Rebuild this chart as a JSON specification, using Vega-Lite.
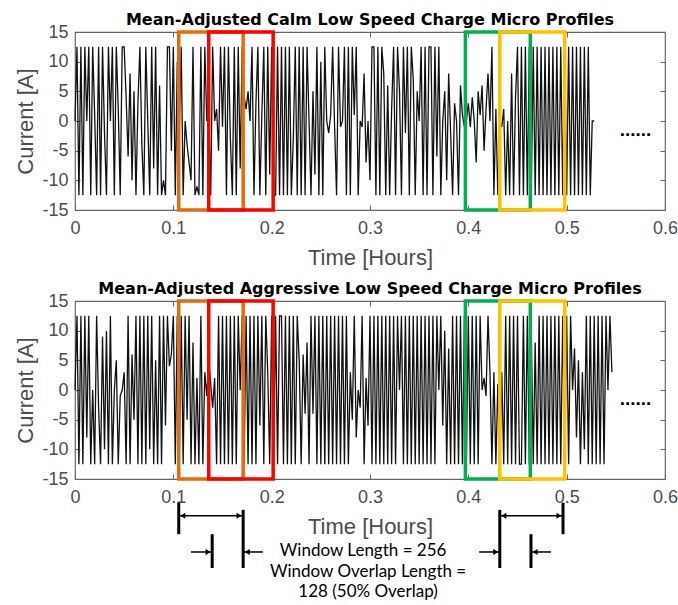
{
  "$schema": "https://vega.github.io/schema/vega-lite/v6.json",
  "padding": {"left": 14, "top": 11, "right": 4, "bottom": 2},
  "spacing": 11,
  "background": "white",
  "config": {
    "view": {"stroke": "#666666", "strokeWidth": 1.2},
    "axis": {
      "grid": false,
      "domain": false,
      "tickSize": -5,
      "tickColor": "#666666",
      "tickWidth": 1,
      "labelFlush": false,
      "labelFont": "Liberation Sans",
      "labelFontSize": 18,
      "labelColor": "#4d4d4d",
      "labelPadding": 14,
      "labelExpr": "replace(datum.label, '\u2212', '-')",
      "titleFont": "Liberation Sans",
      "titleFontSize": 22,
      "titleFontWeight": "normal",
      "titleColor": "#4d4d4d",
      "titlePadding": 10
    },
    "title": {"font": "DejaVu Sans", "fontSize": 16, "fontWeight": "bold", "color": "#000000", "offset": -5, "anchor": "middle"}
  },
  "datasets": {
    "calm": [
      {"t":0,"i":0},{"t":0.002,"i":12.5},{"t":0.004,"i":-12.5},{"t":0.006,"i":12.5},{"t":0.008,"i":-12.5},{"t":0.010,"i":12.5},{"t":0.012,"i":0},{"t":0.014,"i":12.5},{"t":0.016,"i":-12.5},{"t":0.018,"i":12.5},
      {"t":0.020,"i":1},{"t":0.022,"i":-12.5},{"t":0.024,"i":12.5},{"t":0.026,"i":-12.5},{"t":0.028,"i":12.5},{"t":0.030,"i":-2},{"t":0.032,"i":-12.5},{"t":0.034,"i":12.5},{"t":0.036,"i":0},{"t":0.038,"i":12.5},
      {"t":0.040,"i":-12.5},{"t":0.042,"i":12.5},{"t":0.044,"i":2},{"t":0.046,"i":-12.5},{"t":0.048,"i":12.5},{"t":0.050,"i":12.5},{"t":0.052,"i":4},{"t":0.054,"i":-6},{"t":0.056,"i":8},{"t":0.058,"i":-10},
      {"t":0.060,"i":5},{"t":0.062,"i":-12.5},{"t":0.064,"i":3},{"t":0.066,"i":12.5},{"t":0.068,"i":-4},{"t":0.070,"i":-12.5},{"t":0.072,"i":12.5},{"t":0.074,"i":0},{"t":0.076,"i":-12.5},{"t":0.078,"i":12.5},
      {"t":0.080,"i":-8},{"t":0.082,"i":12.5},{"t":0.084,"i":-12.5},{"t":0.086,"i":6},{"t":0.088,"i":-12.5},{"t":0.090,"i":-10},{"t":0.092,"i":-12.5},{"t":0.094,"i":12.5},{"t":0.096,"i":12.5},{"t":0.098,"i":-5},
      {"t":0.100,"i":12.5},{"t":0.102,"i":-12.5},{"t":0.104,"i":10},{"t":0.106,"i":-2},{"t":0.108,"i":12.5},{"t":0.110,"i":-12.5},{"t":0.112,"i":0},{"t":0.114,"i":-4},{"t":0.116,"i":-7},{"t":0.118,"i":-10},
      {"t":0.120,"i":12.5},{"t":0.122,"i":-12.5},{"t":0.124,"i":-11},{"t":0.126,"i":-12.5},{"t":0.128,"i":12.5},{"t":0.130,"i":-12.5},{"t":0.132,"i":12.5},{"t":0.134,"i":0},{"t":0.136,"i":1},{"t":0.138,"i":-12.5},
      {"t":0.140,"i":12.5},{"t":0.142,"i":0},{"t":0.144,"i":2},{"t":0.146,"i":-5},{"t":0.148,"i":12.5},{"t":0.150,"i":-1},{"t":0.152,"i":12.5},{"t":0.154,"i":-12.5},{"t":0.156,"i":12.5},{"t":0.158,"i":-3},
      {"t":0.160,"i":-12.5},{"t":0.162,"i":12.5},{"t":0.164,"i":-12.5},{"t":0.166,"i":12.5},{"t":0.168,"i":-8},{"t":0.170,"i":12.5},{"t":0.172,"i":4},{"t":0.174,"i":2},{"t":0.176,"i":5},{"t":0.178,"i":0},
      {"t":0.180,"i":12.5},{"t":0.182,"i":-12.5},{"t":0.184,"i":3},{"t":0.186,"i":12.5},{"t":0.188,"i":-12.5},{"t":0.190,"i":1},{"t":0.192,"i":12.5},{"t":0.194,"i":-12.5},{"t":0.196,"i":12.5},{"t":0.198,"i":-9},
      {"t":0.200,"i":12.5},{"t":0.202,"i":-12.5},{"t":0.204,"i":-12.5},{"t":0.206,"i":12.5},{"t":0.208,"i":-12.5},{"t":0.210,"i":12.5},{"t":0.212,"i":-12.5},{"t":0.214,"i":12.5},{"t":0.216,"i":-12.5},{"t":0.218,"i":12.5},
      {"t":0.220,"i":-12.5},{"t":0.222,"i":-3},{"t":0.224,"i":12.5},{"t":0.226,"i":-12.5},{"t":0.228,"i":12.5},{"t":0.230,"i":-12.5},{"t":0.232,"i":12.5},{"t":0.234,"i":-12.5},{"t":0.236,"i":12.5},{"t":0.238,"i":0},
      {"t":0.240,"i":-12.5},{"t":0.242,"i":5},{"t":0.244,"i":-9},{"t":0.246,"i":12.5},{"t":0.248,"i":-12.5},{"t":0.250,"i":10},{"t":0.252,"i":-12.5},{"t":0.254,"i":12.5},{"t":0.256,"i":0},{"t":0.258,"i":-2},
      {"t":0.260,"i":1},{"t":0.262,"i":12.5},{"t":0.264,"i":-1},{"t":0.266,"i":-12.5},{"t":0.268,"i":12.5},{"t":0.270,"i":-1},{"t":0.272,"i":0},{"t":0.274,"i":12.5},{"t":0.276,"i":-12.5},{"t":0.278,"i":12.5},
      {"t":0.280,"i":-12.5},{"t":0.282,"i":12.5},{"t":0.284,"i":1},{"t":0.286,"i":12.5},{"t":0.288,"i":-12.5},{"t":0.290,"i":0},{"t":0.292,"i":-1},{"t":0.294,"i":8},{"t":0.296,"i":-7},{"t":0.298,"i":0},
      {"t":0.300,"i":-10},{"t":0.302,"i":12.5},{"t":0.304,"i":12.5},{"t":0.306,"i":-12.5},{"t":0.308,"i":12.5},{"t":0.310,"i":-12.5},{"t":0.312,"i":12.5},{"t":0.314,"i":8},{"t":0.316,"i":-12.5},{"t":0.318,"i":6},
      {"t":0.320,"i":-12.5},{"t":0.322,"i":2},{"t":0.324,"i":12.5},{"t":0.326,"i":-12.5},{"t":0.328,"i":12.5},{"t":0.330,"i":5},{"t":0.332,"i":-12.5},{"t":0.334,"i":12.5},{"t":0.336,"i":-2},{"t":0.338,"i":12.5},
      {"t":0.340,"i":-12.5},{"t":0.342,"i":12.5},{"t":0.344,"i":7},{"t":0.346,"i":-12.5},{"t":0.348,"i":5},{"t":0.350,"i":0},{"t":0.352,"i":12.5},{"t":0.354,"i":-12.5},{"t":0.356,"i":12.5},{"t":0.358,"i":-12.5},
      {"t":0.360,"i":12.5},{"t":0.362,"i":12.5},{"t":0.364,"i":-12.5},{"t":0.366,"i":12.5},{"t":0.368,"i":-6},{"t":0.370,"i":12.5},{"t":0.372,"i":-12.5},{"t":0.374,"i":0},{"t":0.376,"i":5},{"t":0.378,"i":-10},
      {"t":0.380,"i":8},{"t":0.382,"i":-2},{"t":0.384,"i":-12.5},{"t":0.386,"i":3},{"t":0.388,"i":0},{"t":0.390,"i":-12.5},{"t":0.392,"i":6},{"t":0.394,"i":1},{"t":0.396,"i":-1},{"t":0.398,"i":0},
      {"t":0.400,"i":3},{"t":0.402,"i":-1},{"t":0.404,"i":4},{"t":0.406,"i":0},{"t":0.408,"i":-7},{"t":0.410,"i":5},{"t":0.412,"i":1},{"t":0.414,"i":6},{"t":0.416,"i":-5},{"t":0.418,"i":2},
      {"t":0.420,"i":8},{"t":0.422,"i":0},{"t":0.424,"i":12.5},{"t":0.426,"i":-12.5},{"t":0.428,"i":2},{"t":0.430,"i":-12.5},{"t":0.432,"i":0},{"t":0.434,"i":-1},{"t":0.436,"i":2},{"t":0.438,"i":-12.5},
      {"t":0.440,"i":0},{"t":0.442,"i":-12.5},{"t":0.444,"i":8},{"t":0.446,"i":-12.5},{"t":0.448,"i":4},{"t":0.450,"i":12.5},{"t":0.452,"i":-12.5},{"t":0.454,"i":12.5},{"t":0.456,"i":-12.5},{"t":0.458,"i":12.5},
      {"t":0.460,"i":-12.5},{"t":0.462,"i":12.5},{"t":0.464,"i":-12.5},{"t":0.466,"i":12.5},{"t":0.468,"i":-12.5},{"t":0.470,"i":12.5},{"t":0.472,"i":-12.5},{"t":0.474,"i":12.5},{"t":0.476,"i":-12.5},{"t":0.478,"i":12.5},
      {"t":0.480,"i":-12.5},{"t":0.482,"i":12.5},{"t":0.484,"i":-12.5},{"t":0.486,"i":12.5},{"t":0.488,"i":-12.5},{"t":0.490,"i":12.5},{"t":0.492,"i":-12.5},{"t":0.494,"i":12.5},{"t":0.496,"i":-12.5},{"t":0.498,"i":12.5},
      {"t":0.500,"i":-12.5},{"t":0.502,"i":12.5},{"t":0.504,"i":-12.5},{"t":0.506,"i":12.5},{"t":0.508,"i":-12.5},{"t":0.510,"i":12.5},{"t":0.512,"i":-12.5},{"t":0.514,"i":12.5},{"t":0.516,"i":-12.5},{"t":0.518,"i":12.5},
      {"t":0.520,"i":-12.5},{"t":0.522,"i":12.5},{"t":0.524,"i":-12.5},{"t":0.526,"i":0},{"t":0.528,"i":0}
    ],
    "aggressive": [
      {"t":0,"i":0},{"t":0.002,"i":12.5},{"t":0.004,"i":-12.5},{"t":0.006,"i":12.5},{"t":0.008,"i":-12.5},{"t":0.010,"i":12.5},{"t":0.012,"i":-8},{"t":0.014,"i":12.5},{"t":0.016,"i":-12.5},{"t":0.018,"i":0},
      {"t":0.020,"i":-12.5},{"t":0.022,"i":12.5},{"t":0.024,"i":-3},{"t":0.026,"i":-12.5},{"t":0.028,"i":9},{"t":0.030,"i":-10},{"t":0.032,"i":10},{"t":0.034,"i":-12.5},{"t":0.036,"i":12.5},{"t":0.038,"i":-12.5},
      {"t":0.040,"i":0},{"t":0.042,"i":5},{"t":0.044,"i":-12.5},{"t":0.046,"i":-1},{"t":0.048,"i":0},{"t":0.050,"i":3},{"t":0.052,"i":-12.5},{"t":0.054,"i":12.5},{"t":0.056,"i":-12.5},{"t":0.058,"i":6},
      {"t":0.060,"i":-5},{"t":0.062,"i":12.5},{"t":0.064,"i":-12.5},{"t":0.066,"i":12.5},{"t":0.068,"i":-12.5},{"t":0.070,"i":12.5},{"t":0.072,"i":-12.5},{"t":0.074,"i":12.5},{"t":0.076,"i":-10},{"t":0.078,"i":12.5},
      {"t":0.080,"i":-12.5},{"t":0.082,"i":5},{"t":0.084,"i":-12.5},{"t":0.086,"i":12.5},{"t":0.088,"i":-12.5},{"t":0.090,"i":12.5},{"t":0.092,"i":-6},{"t":0.094,"i":12.5},{"t":0.096,"i":4},{"t":0.098,"i":6},
      {"t":0.100,"i":12.5},{"t":0.102,"i":-12.5},{"t":0.104,"i":12.5},{"t":0.106,"i":-12.5},{"t":0.108,"i":12.5},{"t":0.110,"i":-12.5},{"t":0.112,"i":12.5},{"t":0.114,"i":-5},{"t":0.116,"i":12.5},{"t":0.118,"i":-12.5},
      {"t":0.120,"i":8},{"t":0.122,"i":-12.5},{"t":0.124,"i":2},{"t":0.126,"i":-12.5},{"t":0.128,"i":12.5},{"t":0.130,"i":-12.5},{"t":0.132,"i":3},{"t":0.134,"i":-1},{"t":0.136,"i":5},{"t":0.138,"i":1},
      {"t":0.140,"i":-3},{"t":0.142,"i":2},{"t":0.144,"i":-12.5},{"t":0.146,"i":12.5},{"t":0.148,"i":-12.5},{"t":0.150,"i":12.5},{"t":0.152,"i":-12.5},{"t":0.154,"i":12.5},{"t":0.156,"i":-12.5},{"t":0.158,"i":12.5},
      {"t":0.160,"i":-12.5},{"t":0.162,"i":12.5},{"t":0.164,"i":-12.5},{"t":0.166,"i":12.5},{"t":0.168,"i":0},{"t":0.170,"i":12.5},{"t":0.172,"i":-12.5},{"t":0.174,"i":12.5},{"t":0.176,"i":-12.5},{"t":0.178,"i":12.5},
      {"t":0.180,"i":-12.5},{"t":0.182,"i":12.5},{"t":0.184,"i":-12.5},{"t":0.186,"i":12.5},{"t":0.188,"i":-6},{"t":0.190,"i":12.5},{"t":0.192,"i":-12.5},{"t":0.194,"i":12.5},{"t":0.196,"i":3},{"t":0.198,"i":-12.5},
      {"t":0.200,"i":12.5},{"t":0.202,"i":-12.5},{"t":0.204,"i":12.5},{"t":0.206,"i":-12.5},{"t":0.208,"i":12.5},{"t":0.210,"i":12.5},{"t":0.212,"i":-12.5},{"t":0.214,"i":12.5},{"t":0.216,"i":-12.5},{"t":0.218,"i":12.5},
      {"t":0.220,"i":-12.5},{"t":0.222,"i":12.5},{"t":0.224,"i":-12.5},{"t":0.226,"i":12.5},{"t":0.228,"i":5},{"t":0.230,"i":-12.5},{"t":0.232,"i":6},{"t":0.234,"i":-4},{"t":0.236,"i":8},{"t":0.238,"i":-12.5},
      {"t":0.240,"i":12.5},{"t":0.242,"i":-4},{"t":0.244,"i":12.5},{"t":0.246,"i":-12.5},{"t":0.248,"i":12.5},{"t":0.250,"i":-12.5},{"t":0.252,"i":12.5},{"t":0.254,"i":-12.5},{"t":0.256,"i":12.5},{"t":0.258,"i":-12.5},
      {"t":0.260,"i":12.5},{"t":0.262,"i":-12.5},{"t":0.264,"i":12.5},{"t":0.266,"i":-12.5},{"t":0.268,"i":12.5},{"t":0.270,"i":-12.5},{"t":0.272,"i":12.5},{"t":0.274,"i":-12.5},{"t":0.276,"i":12.5},{"t":0.278,"i":-12.5},
      {"t":0.280,"i":3},{"t":0.282,"i":-5},{"t":0.284,"i":12.5},{"t":0.286,"i":-8},{"t":0.288,"i":0},{"t":0.290,"i":-3},{"t":0.292,"i":12.5},{"t":0.294,"i":-12.5},{"t":0.296,"i":2},{"t":0.298,"i":-6},
      {"t":0.300,"i":12.5},{"t":0.302,"i":-12.5},{"t":0.304,"i":12.5},{"t":0.306,"i":-12.5},{"t":0.308,"i":12.5},{"t":0.310,"i":-12.5},{"t":0.312,"i":12.5},{"t":0.314,"i":-12.5},{"t":0.316,"i":12.5},{"t":0.318,"i":-12.5},
      {"t":0.320,"i":12.5},{"t":0.322,"i":-12.5},{"t":0.324,"i":12.5},{"t":0.326,"i":-12.5},{"t":0.328,"i":12.5},{"t":0.330,"i":0},{"t":0.332,"i":12.5},{"t":0.334,"i":-12.5},{"t":0.336,"i":12.5},{"t":0.338,"i":-12.5},
      {"t":0.340,"i":12.5},{"t":0.342,"i":-12.5},{"t":0.344,"i":12.5},{"t":0.346,"i":-12.5},{"t":0.348,"i":12.5},{"t":0.350,"i":-12.5},{"t":0.352,"i":12.5},{"t":0.354,"i":-12.5},{"t":0.356,"i":12.5},{"t":0.358,"i":-12.5},
      {"t":0.360,"i":12.5},{"t":0.362,"i":-12.5},{"t":0.364,"i":12.5},{"t":0.366,"i":-12.5},{"t":0.368,"i":12.5},{"t":0.370,"i":0},{"t":0.372,"i":12.5},{"t":0.374,"i":-6},{"t":0.376,"i":10},{"t":0.378,"i":-12.5},
      {"t":0.380,"i":7},{"t":0.382,"i":-12.5},{"t":0.384,"i":12.5},{"t":0.386,"i":-12.5},{"t":0.388,"i":12.5},{"t":0.390,"i":-12.5},{"t":0.392,"i":12.5},{"t":0.394,"i":-12.5},{"t":0.396,"i":12.5},{"t":0.398,"i":-12.5},
      {"t":0.400,"i":12.5},{"t":0.402,"i":-12.5},{"t":0.404,"i":12.5},{"t":0.406,"i":-12.5},{"t":0.408,"i":12.5},{"t":0.410,"i":-12.5},{"t":0.412,"i":12.5},{"t":0.414,"i":0},{"t":0.416,"i":2},{"t":0.418,"i":-1},
      {"t":0.420,"i":12.5},{"t":0.422,"i":3},{"t":0.424,"i":-12.5},{"t":0.426,"i":3},{"t":0.428,"i":-12.5},{"t":0.430,"i":1},{"t":0.432,"i":-12.5},{"t":0.434,"i":3},{"t":0.436,"i":-12.5},{"t":0.438,"i":12.5},
      {"t":0.440,"i":-12.5},{"t":0.442,"i":12.5},{"t":0.444,"i":-12.5},{"t":0.446,"i":12.5},{"t":0.448,"i":-12.5},{"t":0.450,"i":12.5},{"t":0.452,"i":-12.5},{"t":0.454,"i":-12.5},{"t":0.456,"i":12.5},{"t":0.458,"i":-12.5},
      {"t":0.460,"i":12.5},{"t":0.462,"i":-12.5},{"t":0.464,"i":10},{"t":0.466,"i":-12.5},{"t":0.468,"i":8},{"t":0.470,"i":-12.5},{"t":0.472,"i":12.5},{"t":0.474,"i":-12.5},{"t":0.476,"i":12.5},{"t":0.478,"i":-12.5},
      {"t":0.480,"i":12.5},{"t":0.482,"i":-12.5},{"t":0.484,"i":12.5},{"t":0.486,"i":-12.5},{"t":0.488,"i":12.5},{"t":0.490,"i":-12.5},{"t":0.492,"i":12.5},{"t":0.494,"i":-12.5},{"t":0.496,"i":12.5},{"t":0.498,"i":-12.5},
      {"t":0.500,"i":12.5},{"t":0.502,"i":-12.5},{"t":0.504,"i":12.5},{"t":0.506,"i":0},{"t":0.508,"i":7},{"t":0.510,"i":-8},{"t":0.512,"i":5},{"t":0.514,"i":-12.5},{"t":0.516,"i":3},{"t":0.518,"i":-10},
      {"t":0.520,"i":12.5},{"t":0.522,"i":-12.5},{"t":0.524,"i":12.5},{"t":0.526,"i":-12.5},{"t":0.528,"i":12.5},{"t":0.530,"i":-12.5},{"t":0.532,"i":12.5},{"t":0.534,"i":-12.5},{"t":0.536,"i":12.5},{"t":0.538,"i":-12.5},
      {"t":0.540,"i":12.5},{"t":0.542,"i":0},{"t":0.544,"i":12.5},{"t":0.546,"i":3}
    ],
    "windows": [
      {"w": "orange", "t0": 0.1055, "t1": 0.171},
      {"w": "red", "t0": 0.136, "t1": 0.2015},
      {"w": "green", "t0": 0.397, "t1": 0.463},
      {"w": "yellow", "t0": 0.432, "t1": 0.498}
    ],
    "more": [{"t": 0.57, "i": -2.6, "label": "......"}],
    "spans": [
      {"t": 0.1055, "y0": -19.0, "y1": -24.3},
      {"t": 0.171, "y0": -20.2, "y1": -30.0},
      {"t": 0.1395, "y0": -24.3, "y1": -30.0},
      {"t": 0.432, "y0": -20.2, "y1": -30.0},
      {"t": 0.4963, "y0": -19.0, "y1": -24.3},
      {"t": 0.4637, "y0": -24.3, "y1": -30.0}
    ],
    "leads": [
      {"t0": 0.1055, "t1": 0.171, "y": -21.2},
      {"t0": 0.118, "t1": 0.1395, "y": -27.3},
      {"t0": 0.171, "t1": 0.191, "y": -27.3},
      {"t0": 0.432, "t1": 0.4963, "y": -21.2},
      {"t0": 0.411, "t1": 0.432, "y": -27.3},
      {"t0": 0.4637, "t1": 0.484, "y": -27.3}
    ],
    "heads": [
      {"t": 0.1055, "y": -21.2, "dir": "left"},
      {"t": 0.171, "y": -21.2, "dir": "right"},
      {"t": 0.1395, "y": -27.3, "dir": "right"},
      {"t": 0.171, "y": -27.3, "dir": "left"},
      {"t": 0.432, "y": -21.2, "dir": "left"},
      {"t": 0.4963, "y": -21.2, "dir": "right"},
      {"t": 0.432, "y": -27.3, "dir": "right"},
      {"t": 0.4637, "y": -27.3, "dir": "left"}
    ],
    "notes": [
      {"t": 0.293, "y": -27.15, "label": "Window Length = 256"},
      {"t": 0.298, "y": -30.6, "label": "Window Overlap Length ="},
      {"t": 0.298, "y": -34.05, "label": "128 (50% Overlap)"}
    ]
  },
  "vconcat": [
    {
      "width": 590,
      "height": 178,
      "title": "Mean-Adjusted Calm Low Speed Charge Micro Profiles",
      "layer": [
        {
          "data": {"name": "calm"},
          "mark": {"type": "line", "stroke": "#111111", "strokeWidth": 1.3},
          "encoding": {
            "x": {"field": "t", "type": "quantitative", "scale": {"domain": [0, 0.6], "nice": false},
                  "axis": {"orient": "bottom", "title": "Time [Hours]", "values": [0, 0.1, 0.2, 0.3, 0.4, 0.5, 0.6], "format": "~g"}},
            "y": {"field": "i", "type": "quantitative", "scale": {"domain": [-15, 15], "nice": false},
                  "axis": {"orient": "left", "title": "Current [A]", "values": [-15, -10, -5, 0, 5, 10, 15], "labelPadding": 12, "titlePadding": 4}}
          }
        },
        {
          "data": {"name": "windows"},
          "mark": {"type": "rect", "filled": false, "strokeWidth": 3.5},
          "encoding": {
            "x": {"field": "t0", "type": "quantitative", "scale": {"domain": [0, 0.6], "nice": false},
                  "axis": {"orient": "top", "labels": false, "title": null, "values": [0.1, 0.2, 0.3, 0.4, 0.5]}},
            "x2": {"field": "t1"},
            "y": {"datum": -15, "type": "quantitative", "scale": {"domain": [-15, 15], "nice": false},
                  "axis": {"orient": "right", "labels": false, "title": null, "values": [-10, -5, 0, 5, 10]}},
            "y2": {"datum": 15},
            "color": {"field": "w", "type": "nominal", "legend": null,
                      "scale": {"domain": ["orange", "red", "green", "yellow"], "range": ["#E46C0A", "#FF0000", "#00B050", "#FFC000"]}}
          }
        },
        {
          "data": {"name": "more"},
          "mark": {"type": "text", "font": "Liberation Sans", "fontSize": 19, "fontWeight": "bold", "color": "#000000", "baseline": "alphabetic", "align": "center"},
          "encoding": {
            "x": {"field": "t", "type": "quantitative", "scale": {"domain": [0, 0.6], "nice": false}, "axis": null},
            "y": {"field": "i", "type": "quantitative", "scale": {"domain": [-15, 15], "nice": false}, "axis": null},
            "text": {"field": "label"}
          }
        }
      ]
    },
    {
      "width": 590,
      "height": 178,
      "title": "Mean-Adjusted Aggressive Low Speed Charge Micro Profiles",
      "layer": [
        {
          "data": {"name": "aggressive"},
          "mark": {"type": "line", "stroke": "#111111", "strokeWidth": 1.3},
          "encoding": {
            "x": {"field": "t", "type": "quantitative", "scale": {"domain": [0, 0.6], "nice": false},
                  "axis": {"orient": "bottom", "title": "Time [Hours]", "values": [0, 0.1, 0.2, 0.3, 0.4, 0.5, 0.6], "format": "~g"}},
            "y": {"field": "i", "type": "quantitative", "scale": {"domain": [-15, 15], "nice": false},
                  "axis": {"orient": "left", "title": "Current [A]", "values": [-15, -10, -5, 0, 5, 10, 15], "labelPadding": 12, "titlePadding": 4}}
          }
        },
        {
          "data": {"name": "windows"},
          "mark": {"type": "rect", "filled": false, "strokeWidth": 3.5},
          "encoding": {
            "x": {"field": "t0", "type": "quantitative", "scale": {"domain": [0, 0.6], "nice": false},
                  "axis": {"orient": "top", "labels": false, "title": null, "values": [0.1, 0.2, 0.3, 0.4, 0.5]}},
            "x2": {"field": "t1"},
            "y": {"datum": -15, "type": "quantitative", "scale": {"domain": [-15, 15], "nice": false},
                  "axis": {"orient": "right", "labels": false, "title": null, "values": [-10, -5, 0, 5, 10]}},
            "y2": {"datum": 15},
            "color": {"field": "w", "type": "nominal", "legend": null,
                      "scale": {"domain": ["orange", "red", "green", "yellow"], "range": ["#E46C0A", "#FF0000", "#00B050", "#FFC000"]}}
          }
        },
        {
          "data": {"name": "more"},
          "mark": {"type": "text", "font": "Liberation Sans", "fontSize": 19, "fontWeight": "bold", "color": "#000000", "baseline": "alphabetic", "align": "center"},
          "encoding": {
            "x": {"field": "t", "type": "quantitative", "scale": {"domain": [0, 0.6], "nice": false}, "axis": null},
            "y": {"field": "i", "type": "quantitative", "scale": {"domain": [-15, 15], "nice": false}, "axis": null},
            "text": {"field": "label"}
          }
        },
        {
          "data": {"name": "spans"},
          "mark": {"type": "rule", "color": "#000000", "strokeWidth": 3, "clip": false},
          "encoding": {
            "x": {"field": "t", "type": "quantitative", "scale": {"domain": [0, 0.6], "nice": false}, "axis": null},
            "y": {"field": "y0", "type": "quantitative", "scale": {"domain": [-15, 15], "nice": false}, "axis": null},
            "y2": {"field": "y1"}
          }
        },
        {
          "data": {"name": "leads"},
          "mark": {"type": "rule", "color": "#000000", "strokeWidth": 1.5, "clip": false},
          "encoding": {
            "x": {"field": "t0", "type": "quantitative", "scale": {"domain": [0, 0.6], "nice": false}, "axis": null},
            "x2": {"field": "t1"},
            "y": {"field": "y", "type": "quantitative", "scale": {"domain": [-15, 15], "nice": false}, "axis": null}
          }
        },
        {
          "data": {"name": "heads"},
          "transform": [{"filter": "datum.dir === 'left'"}],
          "mark": {"type": "point", "shape": "triangle-left", "filled": true, "color": "#000000", "size": 36, "xOffset": 4, "opacity": 1, "clip": false},
          "encoding": {
            "x": {"field": "t", "type": "quantitative", "scale": {"domain": [0, 0.6], "nice": false}, "axis": null},
            "y": {"field": "y", "type": "quantitative", "scale": {"domain": [-15, 15], "nice": false}, "axis": null}
          }
        },
        {
          "data": {"name": "heads"},
          "transform": [{"filter": "datum.dir === 'right'"}],
          "mark": {"type": "point", "shape": "triangle-right", "filled": true, "color": "#000000", "size": 36, "xOffset": -4, "opacity": 1, "clip": false},
          "encoding": {
            "x": {"field": "t", "type": "quantitative", "scale": {"domain": [0, 0.6], "nice": false}, "axis": null},
            "y": {"field": "y", "type": "quantitative", "scale": {"domain": [-15, 15], "nice": false}, "axis": null}
          }
        },
        {
          "data": {"name": "notes"},
          "mark": {"type": "text", "font": "Lato", "fontSize": 17, "color": "#000000", "baseline": "middle", "align": "center", "clip": false},
          "encoding": {
            "x": {"field": "t", "type": "quantitative", "scale": {"domain": [0, 0.6], "nice": false}, "axis": null},
            "y": {"field": "y", "type": "quantitative", "scale": {"domain": [-15, 15], "nice": false}, "axis": null},
            "text": {"field": "label"}
          }
        }
      ]
    }
  ]
}
